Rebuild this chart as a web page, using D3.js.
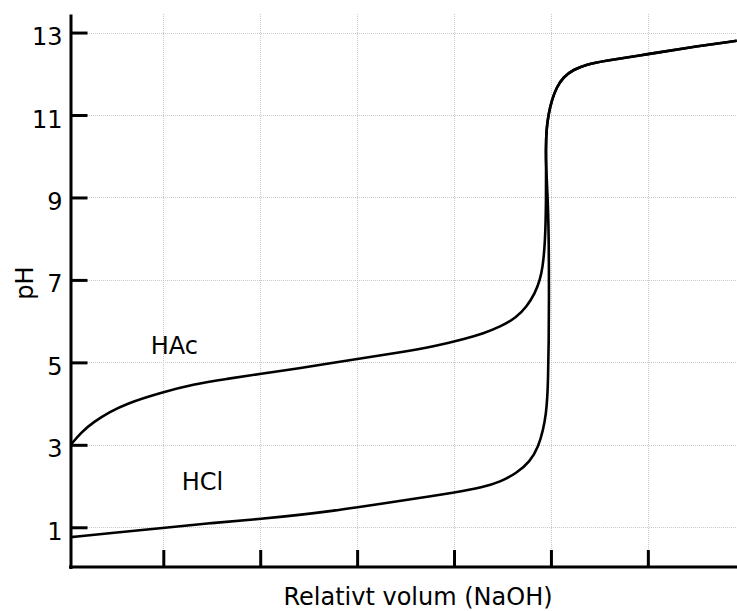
<!DOCTYPE html>
<html>
<head>
<meta charset="utf-8">
<script src="https://cdn.jsdelivr.net/npm/d3@7"></script>
<style>
  body { margin: 0; background: white; }
  svg { display: block; font-family: "DejaVu Sans", Verdana, sans-serif; }
</style>
</head>
<body>
<svg width="737" height="611"></svg>
<script>
// titration curves, [relative volume, pH]
const hacPoints = [
  [0.009, 3.0], [0.03, 3.3], [0.0555, 3.55], [0.09, 3.80], [0.124, 4.0], [0.193, 4.26],
  [0.262, 4.47], [0.331, 4.6], [0.40, 4.72], [0.482, 4.86], [0.551, 4.99],
  [0.62, 5.12], [0.689, 5.24], [0.757, 5.38], [0.826, 5.58], [0.860, 5.70],
  [0.895, 5.86], [0.929, 6.09], [0.950, 6.35], [0.967, 6.67], [0.9775, 7.0],
  [0.983, 7.32], [0.9864, 7.72], [0.9885, 8.13], [0.990, 8.94]
];
const hclPoints = [
  [0.009, 0.76], [0.09, 0.855], [0.193, 0.976], [0.296, 1.10], [0.40, 1.2],
  [0.482, 1.30], [0.551, 1.40], [0.60, 1.485], [0.654, 1.58], [0.723, 1.70],
  [0.80, 1.84], [0.860, 1.97], [0.895, 2.1], [0.929, 2.31], [0.957, 2.59],
  [0.974, 2.95], [0.984, 3.36], [0.990, 3.76], [0.9926, 4.17], [0.994, 4.57],
  [0.9955, 5.5], [0.996, 6.5], [0.9958, 7.9], [0.9937, 8.94]
];
// shared part above the equivalence point
const basePoints = [
  [0.990, 9.74], [0.9895, 10.15], [0.9905, 10.63], [0.9947, 11.0], [1.0017, 11.36],
  [1.012, 11.68], [1.0256, 11.92], [1.046, 12.1], [1.074, 12.23], [1.108, 12.31],
  [1.198, 12.47], [1.280, 12.63], [1.3835, 12.80]
];
const yTicks = [1, 3, 5, 7, 9, 11, 13];
const xTicks = [0.2, 0.4, 0.6, 0.8, 1.0, 1.2];
const seriesLabels = [
  {name: "HAc", x: 0.174, y: 5.2},
  {name: "HCl", x: 0.238, y: 1.9}
];

const svg = d3.select("svg");

const x = d3.scaleLinear()
    .domain([0.0095, 1.384])
    .range([71, 737]);

const y = d3.scaleLinear()
    .domain([0, 13.45])
    .range([568.5, 14]);

const xAxisY = 567;

// grid
const grid = svg.append("g")
    .attr("stroke", "#c8c8c8")
    .attr("stroke-width", 1)
    .attr("stroke-dasharray", "1,1");

grid.selectAll(".hgrid")
    .data(yTicks)
    .join("line")
    .attr("x1", 71)
    .attr("x2", 737)
    .attr("y1", d => Math.round(y(d)) + 0.5)
    .attr("y2", d => Math.round(y(d)) + 0.5);

grid.selectAll(".vgrid")
    .data(xTicks)
    .join("line")
    .attr("x1", d => Math.round(x(d)) + 0.5)
    .attr("x2", d => Math.round(x(d)) + 0.5)
    .attr("y1", 14)
    .attr("y2", xAxisY);

// curves
const line = d3.line()
    .x(d => x(d[0]))
    .y(d => y(d[1]))
    .curve(d3.curveBasis);

[hacPoints, hclPoints].forEach(points => {
    svg.append("path")
        .datum(points.concat(basePoints))
        .attr("fill", "none")
        .attr("stroke", "#000")
        .attr("stroke-width", 2.6)
        .attr("d", line);
});

// axes
const yAxis = svg.append("g")
    .attr("transform", "translate(70.5,0)")
    .call(d3.axisLeft(y).tickValues(yTicks).tickSize(-17).tickSizeOuter(0).tickPadding(8));

yAxis.select(".domain").attr("stroke-width", 3);
yAxis.selectAll(".tick line").attr("stroke-width", 3);
yAxis.selectAll(".tick text")
    .attr("dy", "0.5em")
    .style("font-size", "24px")
    .style("font-family", "DejaVu Sans, sans-serif")
    .attr("fill", "#000");

const xAxis = svg.append("g")
    .attr("transform", `translate(0,${xAxisY})`)
    .call(d3.axisBottom(x).tickValues(xTicks).tickSize(-17).tickSizeOuter(0).tickFormat(""));

xAxis.select(".domain").attr("stroke-width", 3).attr("d", "M69,0H737");
xAxis.selectAll(".tick line").attr("stroke-width", 3);

// series labels
svg.selectAll(".series-label")
    .data(seriesLabels)
    .join("text")
    .attr("x", d => x(d.x))
    .attr("y", d => y(d.y))
    .style("font-size", "24px")
    .text(d => d.name);

// axis titles
svg.append("text")
    .attr("x", 418)
    .attr("y", 605)
    .attr("text-anchor", "middle")
    .style("font-size", "24px")
    .text("Relativt volum (NaOH)");

svg.append("text")
    .attr("transform", "translate(33,283) rotate(-90)")
    .attr("text-anchor", "middle")
    .style("font-size", "24px")
    .text("pH");
</script>
</body>
</html>
